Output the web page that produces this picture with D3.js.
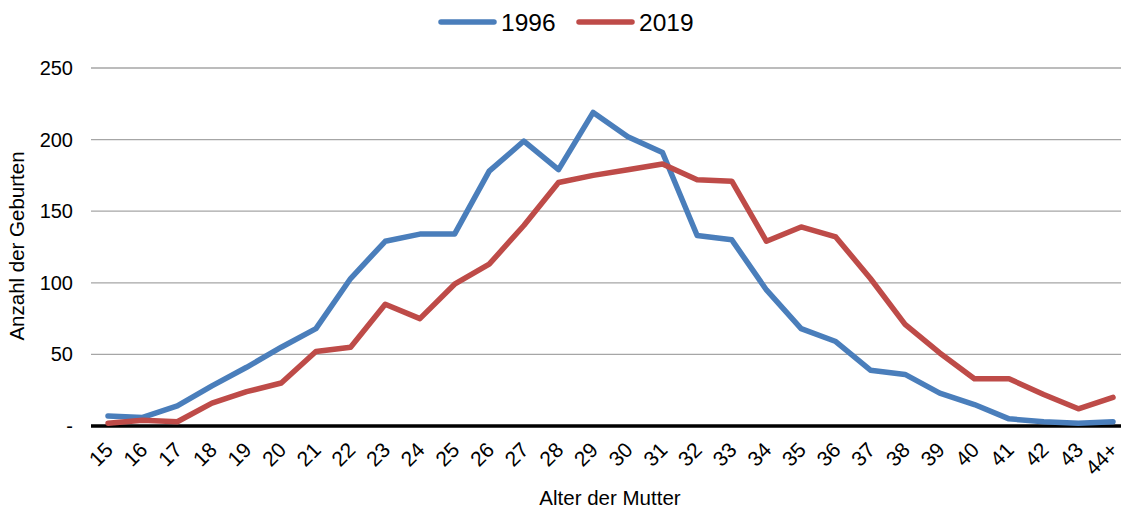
<!DOCTYPE html>
<html>
<head>
<meta charset="utf-8">
<script src="https://cdn.jsdelivr.net/npm/d3@7"></script>
<style>
  body { margin: 0; background: #fff; }
  svg { font-family: "Liberation Sans", Arial, sans-serif; }
</style>
</head>
<body>
<svg id="chart" width="1121" height="510"></svg>
<script>
// Alter der Mutter
var ages = ["15", "16", "17", "18", "19", "20", "21", "22", "23", "24", "25", "26", "27", "28", "29",
            "30", "31", "32", "33", "34", "35", "36", "37", "38", "39", "40", "41", "42", "43", "44+"];
// Anzahl der Geburten
var births1996 = [7, 6, 14, 28, 41, 55, 68, 103, 129, 134, 134, 178, 199, 179, 219,
                  202, 191, 133, 130, 95, 68, 59, 39, 36, 23, 15, 5, 3, 2, 3];
var births2019 = [2, 4, 3, 16, 24, 30, 52, 55, 85, 75, 99, 113, 140, 170, 175,
                  179, 183, 172, 171, 129, 139, 132, 103, 71, 51, 33, 33, 22, 12, 20];
var seriesNames = ["1996", "2019"];
var seriesColors = ["#4a7ebb", "#be4b48"];
var yTicks = [0, 50, 100, 150, 200, 250];

var svg = d3.select("#chart"),
    plotLeft = 91,
    plotRight = 1121,
    plotTop = 68,
    plotBottom = 426;

var x = d3.scalePoint()
    .domain(ages)
    .range([108, 1113]);

var y = d3.scaleLinear()
    .domain([0, 250])
    .range([plotBottom, plotTop]);

// gridlines
svg.append("g")
    .selectAll("line")
    .data(yTicks.slice(1))
    .enter().append("line")
    .attr("x1", plotLeft)
    .attr("x2", plotRight)
    .attr("y1", function(d) { return y(d); })
    .attr("y2", function(d) { return y(d); })
    .attr("stroke", "#a6a6a6")
    .attr("stroke-width", 1.3);

// y axis labels
svg.append("g")
    .selectAll("text")
    .data(yTicks)
    .enter().append("text")
    .attr("x", 73)
    .attr("y", function(d) { return y(d); })
    .attr("dy", "0.35em")
    .attr("text-anchor", "end")
    .attr("font-size", 20)
    .text(function(d) { return d === 0 ? "-" : d; });

// x axis line
svg.append("line")
    .attr("x1", plotLeft)
    .attr("x2", plotRight)
    .attr("y1", plotBottom)
    .attr("y2", plotBottom)
    .attr("stroke", "#000")
    .attr("stroke-width", 3.5);

// x axis labels
svg.append("g")
    .selectAll("text")
    .data(ages)
    .enter().append("text")
    .attr("transform", function(d) {
        return "translate(" + (x(d) + 1) + "," + 446 + ") rotate(-45)";
    })
    .attr("text-anchor", "end")
    .attr("dy", "0.35em")
    .attr("font-size", 21)
    .text(function(d) { return d; });

// lines
var line = d3.line()
    .x(function(d, i) { return x(ages[i]); })
    .y(function(d) { return y(d); });

[births1996, births2019].forEach(function(data, i) {
    svg.append("path")
        .datum(data)
        .attr("d", line)
        .attr("fill", "none")
        .attr("stroke", seriesColors[i])
        .attr("stroke-width", 5.5)
        .attr("stroke-linejoin", "round")
        .attr("stroke-linecap", "round");
});

// axis titles
svg.append("text")
    .attr("transform", "translate(24,246) rotate(-90)")
    .attr("text-anchor", "middle")
    .attr("font-size", 20.5)
    .text("Anzahl der Geburten");

svg.append("text")
    .attr("x", 610)
    .attr("y", 505)
    .attr("text-anchor", "middle")
    .attr("font-size", 20.5)
    .text("Alter der Mutter");

// legend
var legend = svg.append("g")
    .selectAll("g")
    .data(seriesNames)
    .enter().append("g")
    .attr("transform", function(d, i) { return "translate(" + (441 + i * 138) + ",22)"; });

legend.append("line")
    .attr("x1", 0)
    .attr("x2", 53)
    .attr("stroke", function(d, i) { return seriesColors[i]; })
    .attr("stroke-width", 5.5)
    .attr("stroke-linecap", "round");

legend.append("text")
    .attr("x", 60)
    .attr("dy", "0.35em")
    .attr("font-size", 24.5)
    .text(function(d) { return d; });
</script>
</body>
</html>
